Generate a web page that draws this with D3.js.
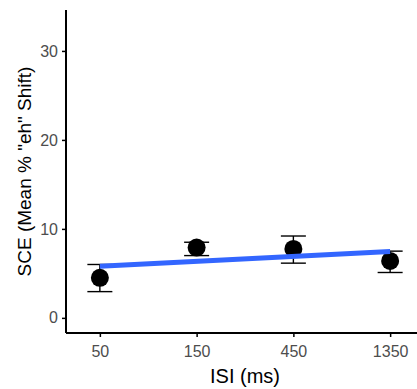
<!DOCTYPE html>
<html>
<head>
<meta charset="utf-8">
<script src="https://cdn.jsdelivr.net/npm/d3@7"></script>
<style>
  body { margin: 0; background: #fff; }
  svg { display: block; font-family: "Liberation Sans", Arial, sans-serif; }
</style>
</head>
<body>
<svg id="chart" width="417" height="389"></svg>
<script>
    // data
    var isiLabels = ["50", "150", "450", "1350"];
    var meanShift = [4.5, 7.9, 7.75, 6.4];
    var errLow = [2.95, 7.0, 6.15, 5.1];
    var errHigh = [6.0, 8.5, 9.2, 7.5];
    var fitStart = 5.8, fitEnd = 7.45;
    var yTicks = [0, 10, 20, 30];

    var svg = d3.select("#chart");
    // panel edges (note: "top" is reserved on window, so use pTop etc.)
    var pLeft = 66, pRight = 424, pTop = 10, pBottom = 333;

    var x = d3.scalePoint()
        .domain(isiLabels)
        .range([pLeft, pRight])
        .padding(0.35);

    var y = d3.scaleLinear()
        .domain([-1.7, 34.6])
        .range([pBottom, pTop]);

    var data = isiLabels.map(function (d, i) {
        return { label: d, mean: meanShift[i], lo: errLow[i], hi: errHigh[i] };
    });

    // error bars
    var eb = svg.append("g");
    data.forEach(function (d) {
        var cx = x(d.label);
        eb.append("line")
            .attr("x1", cx).attr("x2", cx)
            .attr("y1", y(d.lo)).attr("y2", y(d.hi))
            .attr("stroke", "black").attr("stroke-width", 1.4);
        [d.lo, d.hi].forEach(function (v) {
            eb.append("line")
                .attr("x1", cx - 12.5).attr("x2", cx + 12.5)
                .attr("y1", y(v)).attr("y2", y(v))
                .attr("stroke", "black").attr("stroke-width", 1.4);
        });
    });

    // points
    svg.append("g").selectAll("circle")
        .data(data)
        .enter().append("circle")
        .attr("cx", function (d) { return x(d.label); })
        .attr("cy", function (d) { return y(d.mean); })
        .attr("r", 9)
        .attr("fill", "black");

    // fitted line
    svg.append("line")
        .attr("x1", x(isiLabels[0])).attr("x2", x(isiLabels[3]))
        .attr("y1", y(fitStart)).attr("y2", y(fitEnd))
        .attr("stroke", "#3366FF")
        .attr("stroke-width", 5);

    // axes
    var yAxis = svg.append("g")
        .attr("transform", "translate(" + pLeft + ",0)")
        .call(d3.axisLeft(y).tickValues(yTicks).tickSize(4).tickPadding(4));
    var xAxis = svg.append("g")
        .attr("transform", "translate(0," + pBottom + ")")
        .call(d3.axisBottom(x).tickSize(4).tickPadding(9));

    [yAxis, xAxis].forEach(function (a) {
        a.select(".domain").attr("stroke", "black").attr("stroke-width", 2);
        a.selectAll(".tick line").attr("stroke", "black").attr("stroke-width", 1.5);
        a.selectAll(".tick text")
            .attr("fill", "#4D4D4D")
            .style("font-size", "16px")
            .style("font-family", "Liberation Sans, Arial, sans-serif");
    });
    yAxis.select(".domain").attr("d", "M0," + pTop + "V" + pBottom);
    xAxis.select(".domain").attr("d", "M" + pLeft + ",0H" + pRight);

    // axis titles
    svg.append("text")
        .attr("x", (pLeft + pRight) / 2)
        .attr("y", 383)
        .attr("text-anchor", "middle")
        .style("font-size", "20px")
        .text("ISI (ms)");

    svg.append("text")
        .attr("transform", "translate(31," + ((pTop + pBottom) / 2) + ") rotate(-90)")
        .attr("text-anchor", "middle")
        .style("font-size", "19px")
        .text("SCE (Mean % \"eh\" Shift)");
</script>
</body>
</html>
